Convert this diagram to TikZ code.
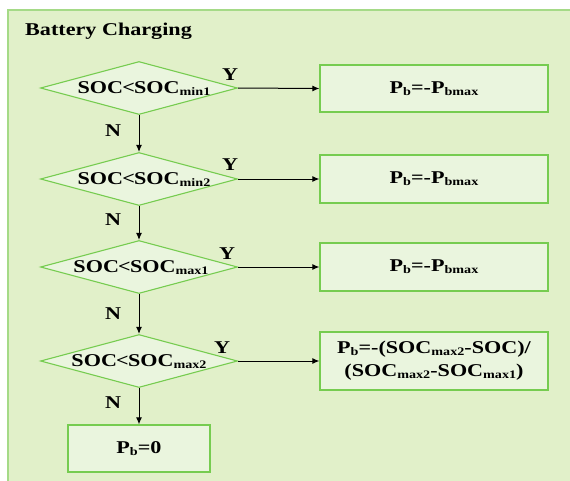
\documentclass[tikz,border=0pt]{standalone}
\usepackage{fontspec}
\setmainfont{Liberation Serif}[FakeStretch=1.23]
\usetikzlibrary{shapes.geometric,arrows.meta}
\definecolor{bgfill}{RGB}{225,240,201}
\definecolor{frameline}{RGB}{165,218,135}
\definecolor{shapefill}{RGB}{234,245,222}
\definecolor{shapeline}{RGB}{118,204,80}
\newcommand{\sbs}[1]{\raisebox{-0.25ex}{\fontsize{11.5}{11.5}\selectfont #1}}
\newcommand{\lt}{\kern-0.8pt<\kern-0.8pt}
\tikzset{
  txt/.style={font=\fontsize{18}{23}\selectfont\bfseries, inner sep=0pt},
  decision/.style={diamond, draw=shapeline, fill=shapefill, line width=1.1pt,
    minimum width=197pt, minimum height=53pt, inner sep=0pt},
  actbox/.style={rectangle, draw=shapeline, fill=shapefill, line width=1.3pt,
    minimum width=228pt, minimum height=47pt, inner sep=0pt},
  flow/.style={line width=1pt, -{Latex[length=7pt,width=6pt]}},
  yn/.style={txt}
}
\begin{document}
\begin{tikzpicture}[x=1pt,y=-1pt]
\useasboundingbox (0,0) rectangle (570,480);
\clip (0,0) rectangle (570,480);
\fill[white] (0,0) rectangle (570,480);
\draw[draw=frameline, fill=bgfill, line width=1.5pt] (8,10) rectangle (590,500);
\node[txt, anchor=west] (title) at (25,31) {Battery Charging};

% decisions
\node[decision] (d1) at (139,88) {};
\node[decision] (d2) at (139,179) {};
\node[decision] (d3) at (139,267) {};
\node[decision] (d4) at (139,361) {};
\node[txt] (t1) at (144,89) {SOC\lt SOC\sbs{min1}};
\node[txt] (t2) at (144,180) {SOC\lt SOC\sbs{min2}};
\node[txt] (t3) at (141,268) {SOC\lt SOC\sbs{max1}};
\node[txt] (t4) at (139,362) {SOC\lt SOC\sbs{max2}};

% actions
\node[actbox] (b1) at (434,88.5) {};
\node[txt] at (b1) {P\sbs{b}=-P\sbs{bmax}};
\node[actbox, minimum height=48pt] (b2) at (434,179) {};
\node[txt] at (b2) {P\sbs{b}=-P\sbs{bmax}};
\node[actbox, minimum height=48pt] (b3) at (434,267) {};
\node[txt] at (b3) {P\sbs{b}=-P\sbs{bmax}};
\node[actbox, minimum height=58pt] (b4) at (434,361) {};
\node[txt, align=center] at (b4) {P\sbs{b}=-(SOC\sbs{max2}-SOC)/\\(SOC\sbs{max2}-SOC\sbs{max1})};
\node[actbox, minimum width=142pt] (b5) at (139,448.5) {};
\node[txt] at (b5) {P\sbs{b}=0};

% connectors
\draw[flow] (d1.east) -- (b1.west);
\draw[flow] (d2.east) -- (b2.west);
\draw[flow] (d3.east) -- (b3.west);
\draw[flow] (d4.east) -- (b4.west);
\draw[flow] (d1.south) -- (d2.north);
\draw[flow] (d2.south) -- (d3.north);
\draw[flow] (d3.south) -- (d4.north);
\draw[flow] (d4.south) -- (b5.north);

% labels
\node[yn] (y1) at (230,75) {Y};
\node[yn] (y2) at (230,165) {Y};
\node[yn] (y3) at (227,254) {Y};
\node[yn] (y4) at (222,348) {Y};
\node[yn] (n1) at (113,131) {N};
\node[yn] (n2) at (113,220) {N};
\node[yn] (n3) at (113,314) {N};
\node[yn] (n4) at (113,403) {N};
\end{tikzpicture}
\end{document}
